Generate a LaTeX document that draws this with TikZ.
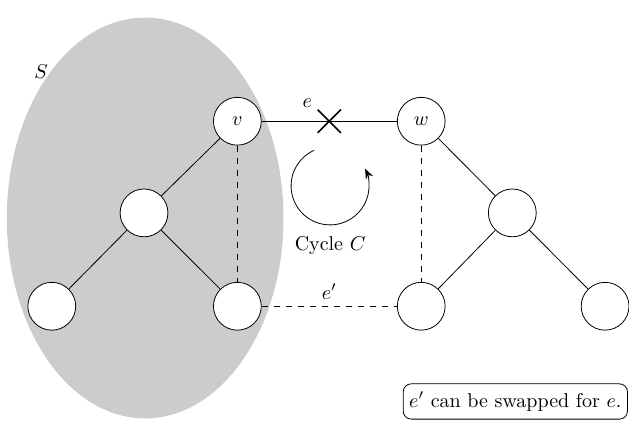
\documentclass[tikz,border=0pt]{standalone}
\usepackage{amsmath,amssymb}
\usepackage{xcolor}
\usepackage{tikz}
\usetikzlibrary{arrows.meta,positioning,shapes.misc}
\definecolor{cutGray}{RGB}{204,204,204}

\begin{document}
\begin{tikzpicture}[>={Stealth[length=5pt,width=4pt]}, font=\normalsize]
\tikzstyle{vertex}=[draw, circle, fill=white, minimum size=0.84cm, inner sep=0pt]
\tikzstyle{treeedge}=[thin]
\tikzstyle{swapedge}=[thin, dashed]
\tikzstyle{crossmark}=[draw, thick, cross out, minimum size=0.38cm, inner sep=0pt]
\tikzstyle{notebox}=[draw, rounded corners, fill=white, align=center, inner xsep=3pt, minimum height=0.62cm]

\useasboundingbox (0,0) rectangle (11.05,7.38);

% the cut S
\fill[cutGray] (2.55,3.55) ellipse (2.43cm and 3.52cm);
\node (setS) at (0.72,6.12) {$S$};

% tree inside S
\node[vertex] (v) at (4.17,5.25) {$v$};
\node[vertex] (sMid) at (2.53,3.64) {};
\node[vertex] (sLeft) at (0.91,2.0) {};
\node[vertex] (sRight) at (4.17,2.0) {};
\draw[treeedge] (v) -- (sMid);
\draw[treeedge] (sMid) -- (sLeft);
\draw[treeedge] (sMid) -- (sRight);

% tree outside S
\node[vertex] (w) at (7.40,5.25) {$w$};
\node[vertex] (tMid) at (9.0,3.64) {};
\node[vertex] (tLeft) at (7.40,2.0) {};
\node[vertex] (tRight) at (10.63,2.0) {};
\draw[treeedge] (w) -- (tMid);
\draw[treeedge] (tMid) -- (tLeft);
\draw[treeedge] (tMid) -- (tRight);

% edge e, removed
\draw[treeedge] (v) -- node[crossmark] (cut) {} (w);
\node (eLabel) at (5.40,5.57) {$e$};

% other tree paths and e'
\draw[swapedge] (v) -- (sRight);
\draw[swapedge] (w) -- (tLeft);
\draw[swapedge] (sRight) -- node[above] (ePrime) {$e'$} (tLeft);

% cycle C
\coordinate (cycStart) at (5.52,4.74);
\draw[->] (cycStart) arc[start angle=114, end angle=386, radius=0.685cm];
\node (cycLabel) at (5.80,3.06) {Cycle $C$};

\node[notebox, anchor=south east] (note) at (11.03,0.01) {$e'$ can be swapped for $e$.};
\end{tikzpicture}
\end{document}
